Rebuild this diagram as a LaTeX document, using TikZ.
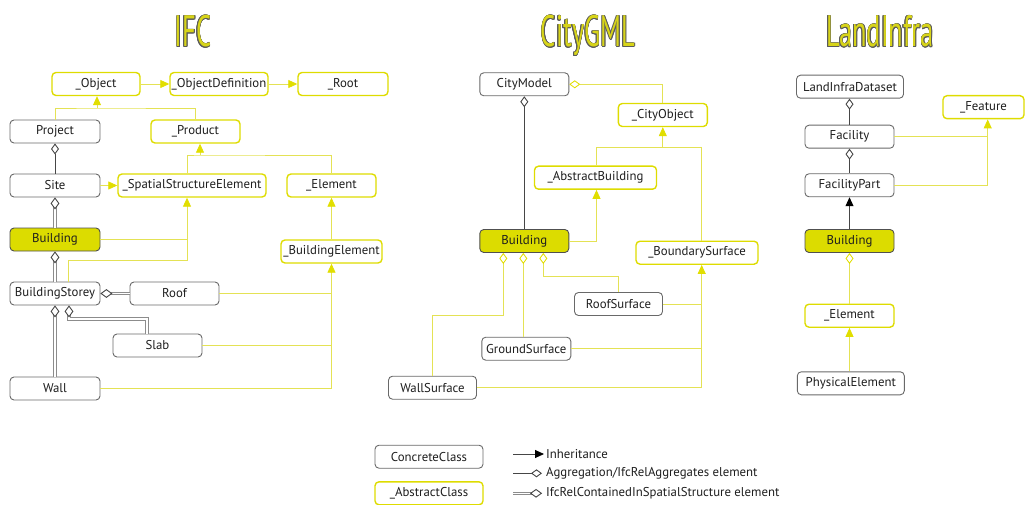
\documentclass[tikz,border=0pt]{standalone}
\usepackage{fontspec}
\setmainfont{PT Sans}
\newfontfamily\titlefont[FakeStretch=0.6]{PT Sans}
\usetikzlibrary{arrows.meta,shapes.geometric}

\definecolor{ylw}{RGB}{222,220,0}
\definecolor{ylwfill}{RGB}{220,220,0}
\definecolor{yline}{RGB}{228,226,85}
\definecolor{ytip}{RGB}{225,222,0}
\definecolor{cgray}{RGB}{105,105,105}
\definecolor{bgray}{RGB}{80,80,80}
\definecolor{dline}{RGB}{70,70,70}
\definecolor{dblgray}{RGB}{140,140,140}
\definecolor{tgray}{RGB}{90,90,90}
\definecolor{tfill}{RGB}{215,212,25}
\definecolor{txt}{RGB}{30,30,30}

% outlined column title: grey halo, yellow letters on top
\newcommand\outlinedtitle[3]{%
  \foreach \a in {0,30,...,330}{%
    \node[titl, text=tgray, anchor=base] at ([shift={(\a:0.6pt)}]#2) {#3};}
  \node[titl, text=tfill, anchor=base] (#1) at (#2) {#3};}

\begin{document}
\begin{tikzpicture}[x=1pt,y=-1pt,
  titl/.style={font=\titlefont\fontsize{44}{44}\selectfont, inner sep=0pt},
  box/.style={rounded corners=4pt, minimum height=23pt, inner sep=0pt,
    font=\fontsize{12.8}{14}\selectfont, text=txt, line width=0.9pt},
  conc/.style={box, draw=cgray, fill=white},
  abst/.style={box, draw=ylw, line width=1.4pt, fill=white},
  bldg/.style={box, draw=bgray, fill=ylwfill},
  yl/.style={draw=yline, line width=0.85pt},
  inh/.style={yl, -{Triangle[length=9pt,width=8pt,color=ytip,fill=ytip]}},
  dinh/.style={draw=dline, line width=0.9pt, -{Triangle[length=9pt,width=8pt,color=black,fill=black]}},
  agg/.style={draw=dline, line width=0.9pt, {Diamond[open,length=11pt,width=8pt]}-},
  yagg/.style={yl, {Diamond[open,length=11pt,width=8pt,color=ytip]}-},
  dbl/.style={draw=white, line width=1.1pt, preaction={draw=dblgray, line width=3.1pt}},
  diaV/.style={diamond, draw=dline, fill=white, line width=0.9pt, inner sep=0pt,
    minimum width=8pt, minimum height=11pt},
  diaH/.style={diamond, draw=dline, fill=white, line width=0.9pt, inner sep=0pt,
    minimum width=11pt, minimum height=8pt},
  lgtxt/.style={anchor=west, inner sep=0pt, font=\fontsize{12.8}{14}\selectfont, text=txt}
]
\useasboundingbox (0,0) rectangle (1025,505);

% ---------------- titles ----------------
\coordinate (tIFC) at (193,47);
\coordinate (tCity) at (588,47);
\coordinate (tLand) at (880,47);
\outlinedtitle{ifcTitle}{tIFC}{IFC}
\outlinedtitle{cityTitle}{tCity}{CityGML}
\outlinedtitle{landTitle}{tLand}{LandInfra}

% ---------------- IFC ----------------
\node[abst, minimum width=88pt]  (obj)     at (96,84)     {\_Object};
\node[abst, minimum width=98pt]  (objdef)  at (219,84)    {\_ObjectDefinition};
\node[abst, minimum width=90pt]  (root)    at (343,84)    {\_Root};
\node[conc, minimum width=90pt]  (project) at (55,131.5)  {Project};
\node[abst, minimum width=89pt]  (product) at (195.5,131.5) {\_Product};
\node[conc, minimum width=90pt]  (site)    at (55,185.5)  {Site};
\node[abst, minimum width=148pt] (sse)     at (192,185.5) {\_SpatialStructureElement};
\node[abst, minimum width=89pt]  (elem)    at (331.5,185.5) {\_Element};
\node[bldg, minimum width=90pt]  (ifcbld)  at (55,239.5)  {Building};
\node[abst, minimum width=101pt] (bel)     at (331.5,251.5) {\_BuildingElement};
\node[conc, minimum width=90pt]  (storey)  at (55,293.5)  {BuildingStorey};
\node[conc, minimum width=89pt]  (roof)    at (174.5,293.5) {Roof};
\node[conc, minimum width=89pt]  (slab)    at (157.5,345.5) {Slab};
\node[conc, minimum width=90pt]  (wall)    at (55,388.5)  {Wall};

\draw[inh] (obj) -- (objdef);
\draw[inh] (objdef) -- (root);
\coordinate (jObj) at (97,108);
\draw[yl] (project.north) |- (jObj) -| (product.north);
\draw[inh] (jObj) -- (jObj |- obj.south);
\draw[inh] (site) -- (sse);
\coordinate (jProd) at (200,155);
\draw[yl] ([xshift=-5pt]sse.north) |- (jProd) -| (elem.north);
\draw[inh] (jProd) -- (jProd |- product.south);
\coordinate (jS) at (187,260.5);
\draw[yl] (ifcbld.east) -- (ifcbld.east -| jS);
\draw[yl] ([xshift=13pt]storey.north) |- (jS);
\draw[inh] (jS) -- (jS |- sse.south);
\draw[inh] (bel) -- (elem);
\coordinate (jBE) at (331.5,388.5);
\draw[yl] (roof.east) -- (roof.east -| jBE);
\draw[yl] (slab.east) -- (slab.east -| jBE);
\draw[yl] (wall.east) -- (jBE);
\draw[inh] (jBE) -- (bel.south);

% aggregation and spatial containment
\draw[agg] (project.south) -- (site.north);
\draw[dbl] ([yshift=-10pt]site.south) -- (ifcbld.north);
\draw[dbl] ([yshift=-10pt]ifcbld.south) -- (storey.north);
\draw[dbl] ([xshift=10pt]storey.east) -- (roof.west);
\draw[dbl] ([yshift=-10pt]storey.south) -- (wall.north);
\coordinate (jSlab) at (147,319);
\draw[dbl] ([xshift=14pt,yshift=-10pt]storey.south) |- (jSlab) -- (jSlab |- slab.north);
\node[diaV, anchor=north] (d1) at (site.south) {};
\node[diaV, anchor=north] (d2) at (ifcbld.south) {};
\node[diaH, anchor=west]  (d3) at (storey.east) {};
\node[diaV, anchor=north] (d4) at (storey.south) {};
\node[diaV, anchor=north] (d5) at ([xshift=14pt]storey.south) {};

% ---------------- CityGML ----------------
\node[conc, minimum width=89pt]  (citymodel) at (524.3,84.3) {CityModel};
\node[abst, minimum width=89pt]  (cityobj)   at (662.8,115)  {\_CityObject};
\node[abst, minimum width=122pt] (absbld)    at (595.5,177.7) {\_AbstractBuilding};
\node[bldg, minimum width=89pt]  (cgbld)     at (524.3,241)  {Building};
\node[abst, minimum width=122pt] (bsurf)     at (697,252.7)  {\_BoundarySurface};
\node[conc, minimum width=88pt]  (roofs)     at (618.5,304)  {RoofSurface};
\node[conc, minimum width=89pt]  (grounds)   at (526.3,348.7) {GroundSurface};
\node[conc, minimum width=88pt]  (walls)     at (432.5,387.7) {WallSurface};

\draw[yagg] (citymodel.east) -| (cityobj.north);
\draw[agg] (citymodel.south) -- (cgbld.north);
\coordinate (jCO) at (662.8,147.7);
\draw[yl] ([xshift=1pt]absbld.north) |- (jCO) -| ([xshift=4.7pt]bsurf.north);
\draw[inh] (jCO) -- (cityobj.south);
\draw[inh] (cgbld.east) -| ([xshift=1pt]absbld.south);
\coordinate (jW) at (432.5,315);
\coordinate (jR) at (618.5,276);
\draw[yagg] ([xshift=-21pt]cgbld.south) |- (jW) -- (walls.north);
\draw[yagg] ([xshift=-1pt]cgbld.south) -- ([xshift=-1pt]cgbld.south |- grounds.north);
\draw[yagg] ([xshift=19pt]cgbld.south) |- (jR) -- (roofs.north);
\coordinate (jBS) at (701.7,387.7);
\draw[yl] (roofs.east) -- (roofs.east -| jBS);
\draw[yl] (grounds.east) -- (grounds.east -| jBS);
\draw[yl] (walls.east) -- (jBS);
\draw[inh] (jBS) -- (jBS |- bsurf.south);

% ---------------- LandInfra ----------------
\node[conc, minimum width=107pt] (lid)      at (850,86.7)    {LandInfraDataset};
\node[abst, minimum width=81pt]  (feature)  at (983.5,107.2) {\_Feature};
\node[conc, minimum width=89pt]  (facility) at (849.5,136.7) {Facility};
\node[conc, minimum width=89pt]  (fpart)    at (849.5,185.3) {FacilityPart};
\node[bldg, minimum width=89pt]  (libld)    at (849.5,241)   {Building};
\node[abst, minimum width=89pt]  (lielem)   at (849.5,315.7) {\_Element};
\node[conc, minimum width=107pt] (phys)     at (850.8,383.3) {PhysicalElement};

\draw[agg] (facility.north |- lid.south) -- (facility.north);
\draw[agg] (facility.south) -- (fpart.north);
\draw[dinh] (libld.north) -- (fpart.south);
\coordinate (jF) at (987.7,185.3);
\draw[yl] (facility.east) -- (facility.east -| jF);
\draw[yl] (fpart.east) -- (jF);
\draw[inh] (jF) -- (jF |- feature.south);
\draw[yagg] (libld.south) -- (lielem.north);
\draw[inh] (lielem.south |- phys.north) -- (lielem.south);

% ---------------- legend ----------------
\node[conc, minimum width=108pt] (lgc) at (429,456.7) {ConcreteClass};
\node[abst, minimum width=108pt] (lga) at (429,493.3) {\_AbstractClass};
\coordinate (l1a) at (513,454);   \coordinate (l1b) at (544,454);
\coordinate (l2a) at (513,473.3); \coordinate (l2b) at (542,473.3);
\coordinate (l3a) at (513,493.3); \coordinate (l3b) at (542,493.3);
\draw[dinh] (l1a) -- (l1b);
\draw[draw=dline, line width=0.9pt, -{Diamond[open,length=11pt,width=8pt]}] (l2a) -- (l2b);
\draw[dbl] (l3a) -- ([xshift=-10pt]l3b);
\node[diaH, anchor=east] (d6) at (l3b) {};
\node[lgtxt] (lt1) at (546,454)   {Inheritance};
\node[lgtxt] (lt2) at (546,473.3) {Aggregation/IfcRelAggregates element};
\node[lgtxt] (lt3) at (546,493.3) {IfcRelContainedInSpatialStructure element};
\end{tikzpicture}
\end{document}
